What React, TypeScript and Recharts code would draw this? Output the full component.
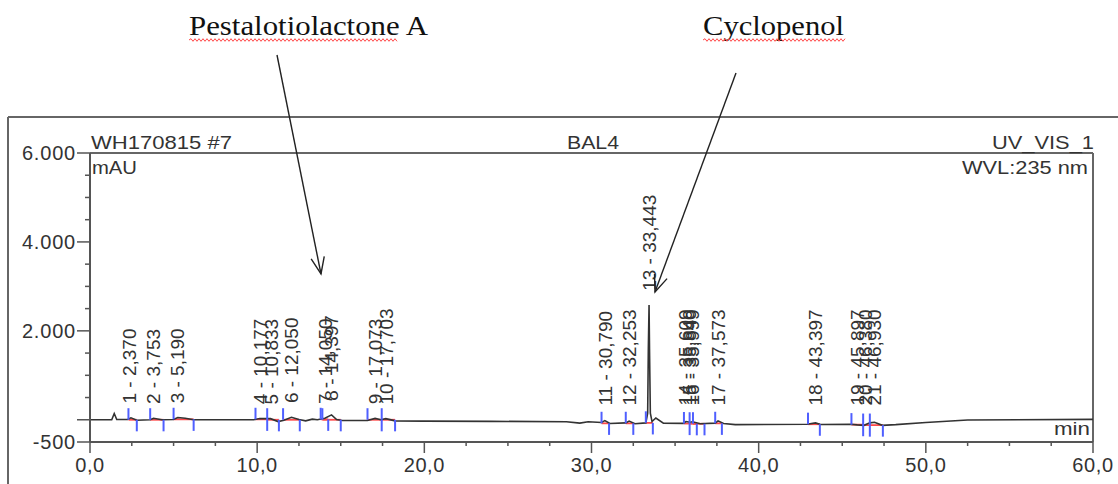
import React from "react";
import { ComposedChart, Line, Scatter, XAxis, YAxis, ReferenceLine } from "recharts";

// chromatogram trace (retention time in min, signal in mAU)
const traceTime = [
  0, 1.3, 1.45, 1.6, 2.25, 2.45, 2.8, 3.6, 3.8, 4.3, 5.0, 5.25, 5.7, 6.2, 9.8, 10.15, 10.8, 11.25, 11.6, 12.05,
  12.5, 12.9, 13.3, 13.6, 14.05, 14.45, 14.75, 15.1, 16.6, 17.05, 17.4, 17.7, 18.25, 20, 24, 28.5, 29.3, 29.8,
  30.6, 30.8, 31.1, 32.05, 32.25, 32.6, 33.25, 33.36, 33.4, 33.443, 33.47, 33.52, 33.62, 33.85, 34.3, 35.5, 35.65,
  35.9, 36.05, 36.5, 37.4, 37.57, 37.9, 38.6, 42.9, 43.4, 43.7, 45.5, 45.9, 46.3, 46.65, 46.93, 47.4, 48.2, 50,
  52.5, 60,
];
const traceMAU = [
  0, 0, 140, 5, 5, 45, -10, 0, 35, 0, 5, 50, 35, 0, 0, 30, 25, -40, -10, 55,
  5, -25, 15, 0, 35, 110, 5, -15, -15, 30, 0, 25, -25, -30, -35, -45, -75, -45,
  -60, -20, -85, -70, -30, -90, -70, 150, 1600, 2580, 1600, 150, -40, 40, -75, -80, -40,
  -55, -45, -90, -75, -25, -85, -110, -100, -70, -105, -100, -115, -125, -70, -55, -125, -110, -60,
  -5, 10,
];

// integrated peaks
const peakNo = [1, 2, 3, 4, 5, 6, 7, 8, 9, 10, 11, 12, 13, 14, 15, 16, 17, 18, 19, 20, 21];
const peakRt = [2.37, 3.753, 5.19, 10.177, 10.833, 12.05, 14.05, 14.397, 17.073, 17.703, 30.79, 32.253, 33.443, 35.609, 35.84, 35.999, 37.573, 43.397, 45.897, 46.38, 46.93];
const peakStart = [2.3, 3.6, 5.0, 9.9, 10.6, 11.55, 13.8, 13.9, 16.6, 17.45, 30.6, 32.05, 33.25, 35.53, 35.87, 36.07, 37.4, 42.95, 45.55, 46.25, 46.65];
const peakEnd = [2.8, 4.4, 6.2, 10.6, 11.3, 12.55, 14.25, 15.0, 17.45, 18.25, 31.05, 32.5, 33.67, 35.87, 36.3, 36.76, 37.8, 43.66, 46.25, 46.65, 47.43];
const peakBase = [0, 0, 10, 10, 0, 0, 10, 0, 0, 0, -80, -80, -70, -85, -90, -90, -80, -100, -110, -120, -120];
const peakHeight = [45, 35, 50, 30, 25, 55, 35, 110, 30, 25, -20, -30, 2580, -40, -55, -45, -25, -70, -60, -70, -55];

// axes
const xTicks = [0, 2.5, 5, 7.5, 10, 12.5, 15, 17.5, 20, 22.5, 25, 27.5, 30, 32.5, 35, 37.5, 40, 42.5, 45, 47.5, 50, 52.5, 55, 57.5, 60];
const xMajor = [0, 10, 20, 30, 40, 50, 60];
const xMajorLabels = ["0,0", "10,0", "20,0", "30,0", "40,0", "50,0", "60,0"];
const yTicks = [-500, 0, 500, 1000, 1500, 2000, 2500, 3000, 3500, 4000, 4500, 5000, 5500, 6000];
const yMajor = [-500, 0, 2000, 4000, 6000];
const yMajorLabels = ["-500", "", "2.000", "4.000", "6.000"];

const trace = traceTime.map((t, i) => ({ t, v: traceMAU[i] }));
const fmtRt = (v: number) => v.toFixed(3).replace(".", ",");
const LABEL_GAP = 320;
const MARK = 260;
const peakLabels = peakNo.map((n, i) => ({
  t: peakRt[i],
  y: Math.max(peakHeight[i], 0) + LABEL_GAP,
  label: `${n} - ${fmtRt(peakRt[i])}`,
}));

const SANS = "'Liberation Sans', Arial, sans-serif";
const SERIF = "'Liberation Serif', 'Times New Roman', serif";
const AXIS = "#555";
const TEXT = "#333";
const BLUE = "#4f5fff";
const RED = "#ff4a4a";

const XTick = (props: any) => {
  const { x, y, payload } = props;
  const v = payload.value;
  const k = xMajor.indexOf(v);
  return (
    <g>
      <line x1={x} x2={x} y1={y} y2={y + (k >= 0 ? 11 : 4)} stroke={AXIS} strokeWidth={1.5} />
      {k >= 0 && (
        <text x={x} y={y + 30} textAnchor="middle" fontFamily={SANS} fontSize={20} letterSpacing={0.6} fill={TEXT}>
          {xMajorLabels[k]}
        </text>
      )}
    </g>
  );
};

const YTick = (props: any) => {
  const { x, y, payload } = props;
  const k = yMajor.indexOf(payload.value);
  return (
    <g>
      <line x1={x - (k >= 0 ? 13 : 5)} x2={x} y1={y} y2={y} stroke={AXIS} strokeWidth={1.5} />
      {k >= 0 && (
        <text x={x - 14} y={y} dy="0.36em" textAnchor="end" fontFamily={SANS} fontSize={20} letterSpacing={0.8} fill={TEXT}>
          {yMajorLabels[k]}
        </text>
      )}
    </g>
  );
};

const PeakLabel = (props: any) => {
  const { cx, cy, payload } = props;
  return (
    <text
      x={cx}
      y={cy}
      dy="0.36em"
      transform={`rotate(-90, ${cx}, ${cy})`}
      fontFamily={SANS}
      fontSize={19}
      fill={TEXT}
    >
      {payload.label}
    </text>
  );
};

function squiggle(x1: number, x2: number, y: number) {
  let d = `M${x1},${y}`;
  let up = true;
  for (let x = x1 + 2; x <= x2; x += 2) {
    d += ` L${x},${y + (up ? -1.3 : 1.3)}`;
    up = !up;
  }
  return d;
}

function Arrow({ x1, y1, x2, y2 }: { x1: number; y1: number; x2: number; y2: number }) {
  const a = Math.atan2(y2 - y1, x2 - x1);
  const len = 18;
  const spread = 0.38;
  const h1 = [x2 - len * Math.cos(a - spread), y2 - len * Math.sin(a - spread)];
  const h2 = [x2 - len * Math.cos(a + spread), y2 - len * Math.sin(a + spread)];
  return (
    <g stroke="#222" strokeWidth={1.4} fill="none">
      <line x1={x1} y1={y1} x2={x2} y2={y2} />
      <polyline points={`${h1[0]},${h1[1]} ${x2},${y2} ${h2[0]},${h2[1]}`} />
    </g>
  );
}

export default function App() {
  return (
    <div style={{ position: "absolute", left: 0, top: 0, width: 1118, height: 484, background: "#fff", overflow: "hidden" }}>
      <ComposedChart width={1118} height={484} margin={{ top: 153, right: 25, bottom: 0, left: 0 }}>
        <XAxis
          type="number"
          dataKey="t"
          domain={[0, 60]}
          ticks={xTicks}
          interval={0}
          allowDataOverflow
          height={42}
          tickSize={0}
          tickMargin={0}
          tickLine={false}
          tick={<XTick />}
          axisLine={{ stroke: AXIS, strokeWidth: 2 }}
        />
        <YAxis
          type="number"
          domain={[-500, 6000]}
          ticks={yTicks}
          interval={0}
          allowDataOverflow
          width={90}
          tickSize={0}
          tickMargin={0}
          tickLine={false}
          tick={<YTick />}
          axisLine={{ stroke: AXIS, strokeWidth: 2 }}
        />
        <ReferenceLine y={6000} stroke="#666" strokeWidth={2} />
        <ReferenceLine x={60} stroke="#666" strokeWidth={2} />
        {peakNo.map((n, i) => (
          <ReferenceLine
            key={`b${n}`}
            segment={[{ x: peakStart[i], y: peakBase[i] }, { x: peakEnd[i], y: peakBase[i] }]}
            stroke={RED}
            strokeWidth={1.8}
          />
        ))}
        <Line
          data={trace}
          dataKey="v"
          type="linear"
          stroke="#333"
          strokeWidth={1.6}
          dot={false}
          isAnimationActive={false}
        />
        {peakNo.map((n, i) => (
          <ReferenceLine
            key={`s${n}`}
            segment={[{ x: peakStart[i], y: peakBase[i] }, { x: peakStart[i], y: peakBase[i] + MARK }]}
            stroke={BLUE}
            strokeWidth={2}
          />
        ))}
        {peakNo.map((n, i) => (
          <ReferenceLine
            key={`e${n}`}
            segment={[{ x: peakEnd[i], y: peakBase[i] }, { x: peakEnd[i], y: peakBase[i] - MARK }]}
            stroke={BLUE}
            strokeWidth={2}
          />
        ))}
        <Scatter data={peakLabels} dataKey="y" shape={<PeakLabel />} isAnimationActive={false} />
      </ComposedChart>

      <svg width={1118} height={484} style={{ position: "absolute", left: 0, top: 0, pointerEvents: "none" }}>
        <line x1={8} y1={117} x2={1118} y2={117} stroke="#666" strokeWidth={2} />
        <line x1={8} y1={117} x2={8} y2={484} stroke="#666" strokeWidth={2} />

        <g fontFamily={SANS} fontSize={19} fill={TEXT}>
          <text x={91} y={149} textLength={141} lengthAdjust="spacingAndGlyphs">WH170815 #7</text>
          <text x={567} y={149} textLength={52} lengthAdjust="spacingAndGlyphs">BAL4</text>
          <text x={1094} y={149} textAnchor="end" textLength={102} lengthAdjust="spacingAndGlyphs">UV_VIS_1</text>
          <text x={92} y={174} textLength={45} lengthAdjust="spacingAndGlyphs">mAU</text>
          <text x={1088} y={174} textAnchor="end" textLength={126} lengthAdjust="spacingAndGlyphs">WVL:235 nm</text>
          <text x={1090} y={435} textAnchor="end" textLength={36} lengthAdjust="spacingAndGlyphs">min</text>
        </g>

        <g fontFamily={SERIF} fontSize={27} fill="#111">
          <text x={189} y={35} textLength={239} lengthAdjust="spacingAndGlyphs">Pestalotiolactone A</text>
          <text x={703} y={35} textLength={141} lengthAdjust="spacingAndGlyphs">Cyclopenol</text>
        </g>
        <path d={squiggle(189, 398, 40)} stroke={RED} strokeWidth={1} fill="none" />
        <path d={squiggle(703, 845, 40)} stroke={RED} strokeWidth={1} fill="none" />

        <Arrow x1={277} y1={55} x2={321} y2={274} />
        <Arrow x1={736} y1={73} x2={655} y2={292} />
      </svg>
    </div>
  );
}
